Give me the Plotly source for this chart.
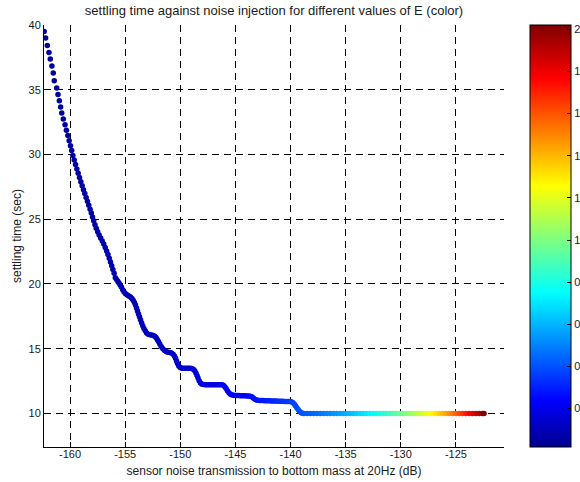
import plotly.graph_objects as go

# sensor noise transmission to bottom mass at 20 Hz (dB)
x_db = [
    -162.34, -162.21, -162.06, -161.91, -161.79, -161.64, -161.52, -161.43, -161.21, -161.09,
    -160.97, -160.85, -160.75, -160.61, -160.45, -160.33, -160.20, -160.08, -159.96, -159.85,
    -159.74, -159.62, -159.50, -159.38, -159.26, -159.14, -159.02, -158.90, -158.78, -158.66,
    -158.54, -158.42, -158.30, -158.18, -158.07, -157.96, -157.85, -157.74, -157.62, -157.49,
    -157.36, -157.22, -157.08, -156.94, -156.81, -156.68, -156.56, -156.44, -156.33, -156.22,
    -156.11, -156.00, -155.89, -155.78, -155.67, -155.56, -155.45, -155.34, -155.22, -155.10,
    -154.96, -154.81, -154.66, -154.52, -154.39, -154.27, -154.16, -154.06, -153.97, -153.88,
    -153.79, -153.70, -153.61, -153.51, -153.41, -153.30, -153.18, -153.05, -152.91, -152.76,
    -152.61, -152.46, -152.32, -152.20, -152.09, -151.98, -151.86, -151.73, -151.58, -151.42,
    -151.26, -151.10, -150.95, -150.80, -150.65, -150.53, -150.43, -150.34, -150.25, -150.14,
    -150.01, -149.86, -149.71, -149.56, -149.41, -149.26, -149.11, -148.96, -148.82, -148.69,
    -148.58, -148.48, -148.39, -148.29, -148.17, -148.03, -147.88, -147.73, -147.58, -147.43,
    -147.28, -147.13, -146.98, -146.83, -146.68, -146.53, -146.38, -146.23, -146.09, -145.96,
    -145.84, -145.72, -145.59, -145.45, -145.30, -145.15, -145.00, -144.85, -144.70, -144.55,
    -144.40, -144.25, -144.10, -143.95, -143.80, -143.65, -143.51, -143.38, -143.24, -143.09,
    -142.94, -142.79, -142.64, -142.49, -142.34, -142.19, -142.04, -141.89, -141.74, -141.59,
    -141.44, -141.29, -141.14, -140.99, -140.84, -140.69, -140.54, -140.39, -140.24, -140.09,
    -139.94, -139.80, -139.67, -139.55, -139.43, -139.31, -139.19, -139.06, -138.94,
    -138.8, -138.5, -138.2, -137.9, -137.6, -137.3, -137.0, -136.7, -136.4, -136.1,
    -135.8, -135.5, -135.2, -134.9, -134.6, -134.3, -134.0, -133.7, -133.4, -133.1,
    -132.8, -132.5, -132.2, -131.9, -131.6, -131.3, -131.0, -130.7, -130.4, -130.1,
    -129.8, -129.5, -129.2, -128.9, -128.6, -128.3, -128.0, -127.7, -127.4, -127.1,
    -126.8, -126.5, -126.2, -125.9, -125.6, -125.3, -125.0, -124.7, -124.4, -124.1,
    -123.8, -123.5, -123.2, -122.9, -122.6, -122.45,
]

# settling time (sec)
settle_s = [
    39.50, 39.00, 38.42, 37.88, 37.37, 36.83, 36.29, 35.70, 35.13, 34.64,
    34.15, 33.66, 33.20, 32.74, 32.30, 31.88, 31.47, 31.07, 30.68, 30.30,
    29.93, 29.57, 29.22, 28.88, 28.55, 28.22, 27.90, 27.59, 27.28, 26.98,
    26.68, 26.38, 26.08, 25.78, 25.48, 25.18, 24.88, 24.58, 24.30, 24.03,
    23.78, 23.55, 23.32, 23.08, 22.82, 22.55, 22.27, 21.98, 21.69, 21.40,
    21.11, 20.82, 20.49, 20.35, 20.21, 20.07, 19.93, 19.76, 19.56, 19.38,
    19.24, 19.15, 19.08, 18.99, 18.88, 18.74, 18.57, 18.37, 18.15, 17.92,
    17.69, 17.46, 17.23, 17.00, 16.78, 16.57, 16.38, 16.22, 16.12, 16.08,
    16.06, 16.03, 15.97, 15.86, 15.71, 15.55, 15.36, 15.17, 15.00, 14.87,
    14.77, 14.72, 14.70, 14.66, 14.58, 14.44, 14.26, 14.06, 13.86, 13.67,
    13.54, 13.50, 13.50, 13.50, 13.50, 13.50, 13.49, 13.47, 13.41, 13.29,
    13.12, 12.93, 12.73, 12.53, 12.36, 12.26, 12.23, 12.22, 12.22, 12.22,
    12.22, 12.22, 12.22, 12.22, 12.22, 12.22, 12.22, 12.21, 12.17, 12.07,
    11.92, 11.75, 11.59, 11.48, 11.42, 11.40, 11.39, 11.38, 11.38, 11.37,
    11.37, 11.36, 11.36, 11.35, 11.34, 11.33, 11.29, 11.20, 11.10, 11.04,
    11.02, 11.01, 11.00, 11.00, 10.99, 10.99, 10.98, 10.98, 10.97, 10.97,
    10.96, 10.96, 10.95, 10.95, 10.94, 10.94, 10.93, 10.93, 10.92, 10.92,
    10.90, 10.85, 10.74, 10.60, 10.45, 10.30, 10.17, 10.07, 10.02,
    10.0, 10.0, 10.0, 10.0, 10.0, 10.0, 10.0, 10.0, 10.0, 10.0,
    10.0, 10.0, 10.0, 10.0, 10.0, 10.0, 10.0, 10.0, 10.0, 10.0,
    10.0, 10.0, 10.0, 10.0, 10.0, 10.0, 10.0, 10.0, 10.0, 10.0,
    10.0, 10.0, 10.0, 10.0, 10.0, 10.0, 10.0, 10.0, 10.0, 10.0,
    10.0, 10.0, 10.0, 10.0, 10.0, 10.0, 10.0, 10.0, 10.0, 10.0,
    10.0, 10.0, 10.0, 10.0, 10.0, 10.0,
]

# value of E (colour)
e_val = [
    0.041, 0.042, 0.043, 0.043, 0.044, 0.044, 0.045, 0.045, 0.046, 0.047,
    0.047, 0.048, 0.048, 0.049, 0.050, 0.050, 0.051, 0.052, 0.052, 0.053,
    0.054, 0.054, 0.055, 0.055, 0.056, 0.057, 0.057, 0.058, 0.059, 0.059,
    0.060, 0.061, 0.061, 0.062, 0.063, 0.063, 0.064, 0.065, 0.066, 0.067,
    0.067, 0.068, 0.069, 0.070, 0.071, 0.072, 0.073, 0.074, 0.074, 0.075,
    0.076, 0.077, 0.078, 0.079, 0.080, 0.081, 0.081, 0.082, 0.083, 0.084,
    0.085, 0.086, 0.087, 0.089, 0.090, 0.091, 0.092, 0.093, 0.093, 0.094,
    0.095, 0.096, 0.097, 0.098, 0.099, 0.100, 0.101, 0.102, 0.104, 0.105,
    0.107, 0.108, 0.110, 0.111, 0.112, 0.113, 0.115, 0.116, 0.118, 0.120,
    0.122, 0.124, 0.125, 0.127, 0.129, 0.131, 0.132, 0.133, 0.134, 0.136,
    0.137, 0.139, 0.141, 0.143, 0.146, 0.148, 0.150, 0.152, 0.154, 0.156,
    0.158, 0.159, 0.161, 0.162, 0.164, 0.167, 0.169, 0.172, 0.174, 0.177,
    0.179, 0.182, 0.185, 0.187, 0.190, 0.193, 0.196, 0.199, 0.201, 0.204,
    0.206, 0.209, 0.212, 0.214, 0.218, 0.221, 0.224, 0.227, 0.231, 0.234,
    0.238, 0.241, 0.245, 0.248, 0.252, 0.256, 0.259, 0.263, 0.266, 0.270,
    0.274, 0.278, 0.282, 0.286, 0.290, 0.294, 0.299, 0.303, 0.308, 0.312,
    0.317, 0.321, 0.326, 0.330, 0.335, 0.340, 0.345, 0.350, 0.355, 0.361,
    0.366, 0.371, 0.376, 0.380, 0.385, 0.389, 0.394, 0.399, 0.403,
    0.408, 0.420, 0.432, 0.445, 0.458, 0.472, 0.486, 0.500, 0.515, 0.531,
    0.546, 0.563, 0.579, 0.597, 0.614, 0.632, 0.651, 0.671, 0.690, 0.711,
    0.732, 0.754, 0.776, 0.799, 0.823, 0.848, 0.873, 0.899, 0.925, 0.953,
    0.981, 1.010, 1.040, 1.071, 1.103, 1.136, 1.169, 1.204, 1.240, 1.277,
    1.315, 1.354, 1.394, 1.435, 1.478, 1.522, 1.567, 1.614, 1.662, 1.711,
    1.762, 1.814, 1.868, 1.923, 1.981, 2.010,
]

x_ticks = [-160, -155, -150, -145, -140, -135, -130, -125]
x_tick_labels = ["-160", "-155", "-150", "-145", "-140", "-135", "-130", "-125"]
y_ticks = [10, 15, 20, 25, 30, 35, 40]
cb_ticks = [0.2, 0.4, 0.6, 0.8, 1.0, 1.2, 1.4, 1.6, 1.8, 2.0]
# colour-bar labels as they appear (cut at the window edge in the original)
cb_labels = ["0", "0", "0", "0", "1", "1", "1", "1", "1", "2"]

CMIN, CMAX = 0.018, 2.02

jet = [
    [0.0, "rgb(0,0,143)"],
    [0.111, "rgb(0,0,255)"],
    [0.365, "rgb(0,255,255)"],
    [0.619, "rgb(255,255,0)"],
    [0.873, "rgb(255,0,0)"],
    [1.0, "rgb(128,0,0)"],
]

FONT = "Liberation Sans, Arial, sans-serif"
TXT = "#1a1a1a"

fig = go.Figure(
    go.Scatter(
        x=x_db,
        y=settle_s,
        mode="markers",
        marker=dict(
            size=5.5,
            color=e_val,
            colorscale=jet,
            cmin=CMIN,
            cmax=CMAX,
            line=dict(width=0),
            colorbar=dict(
                thickness=41,
                thicknessmode="pixels",
                len=1,
                lenmode="fraction",
                x=(530 - 44) / 460,
                xanchor="left",
                xpad=0,
                y=0.5,
                yanchor="middle",
                ypad=0,
                outlinecolor="black",
                outlinewidth=1,
                ticks="inside",
                ticklen=4,
                tickcolor="black",
                tickvals=cb_ticks,
                ticktext=cb_labels,
                tickfont=dict(family=FONT, size=11, color=TXT),
            ),
        ),
        hoverinfo="skip",
    )
)

# short inner tick marks on the left edge of the colour bar
cb_x0 = (530 - 44) / 460
cb_x1 = (534 - 44) / 460
for v in cb_ticks:
    yp = (v - CMIN) / (CMAX - CMIN)
    fig.add_shape(type="line", xref="paper", yref="paper",
                  x0=cb_x0, x1=cb_x1, y0=yp, y1=yp,
                  line=dict(color="black", width=1))

axis_common = dict(
    showline=True,
    linecolor="black",
    linewidth=1,
    mirror=False,
    ticks="inside",
    ticklen=5,
    tickcolor="black",
    showgrid=True,
    gridcolor="black",
    gridwidth=1,
    griddash="7px,5px",
    zeroline=False,
    tickfont=dict(family=FONT, size=11, color=TXT),
)

fig.update_layout(
    width=580,
    height=482,
    margin=dict(l=44, r=76, t=25, b=35, autoexpand=False),
    paper_bgcolor="white",
    plot_bgcolor="white",
    showlegend=False,
    font=dict(family=FONT, size=11, color=TXT),
    title=dict(
        text="settling time against noise injection for different values of E (color)",
        x=274 / 580,
        xanchor="center",
        y=1 - 10 / 482,
        yanchor="middle",
        font=dict(family=FONT, size=13, color=TXT),
    ),
    xaxis=dict(
        range=[-162.36, -120.64],
        tickvals=x_ticks,
        ticktext=x_tick_labels,
        ticklabelstandoff=-3,
        title=dict(
            text="sensor noise transmission to bottom mass at 20Hz (dB)",
            font=dict(family=FONT, size=12, color=TXT),
            standoff=7,
        ),
        **axis_common,
    ),
    yaxis=dict(
        range=[7.41, 40.0],
        tickvals=y_ticks,
        title=dict(
            text="settling time (sec)",
            font=dict(family=FONT, size=12, color=TXT),
            standoff=4,
        ),
        **axis_common,
    ),
)

fig.write_html("out.html")
